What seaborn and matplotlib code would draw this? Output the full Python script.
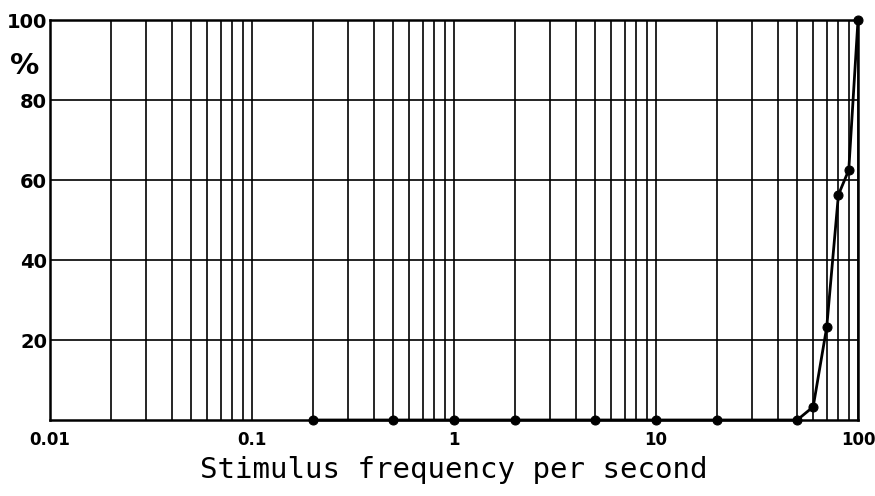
import numpy as np
import pandas as pd
import matplotlib
matplotlib.use("Agg")
import matplotlib.pyplot as plt
import seaborn as sns
from matplotlib.ticker import LogLocator, FixedLocator, NullFormatter

# Data
frequency = [0.2, 0.5, 1, 2, 5, 10, 20, 50, 60, 70, 80, 90, 100]
percent = [0, 0, 0, 0, 0, 0, 0, 0, 3.3, 23.2, 56.3, 62.5, 100]
x_ticks = [0.01, 0.1, 1, 10, 100]
x_tick_labels = ["0.01", "0.1", "1", "10", "100"]
y_ticks = [20, 40, 60, 80, 100]
y_tick_labels = ["20", "40", "60", "80", "100"]

sns.set_theme(style="white")
plt.rcParams['font.family'] = ['DejaVu Sans']

df = pd.DataFrame({"freq": frequency, "pct": percent})

fig = plt.figure(figsize=(8.75, 4.96), dpi=100)
ax = fig.add_axes([50/875, 1-420/496, (858-50)/875, (420-20)/496])

sns.lineplot(data=df, x="freq", y="pct", ax=ax, color="black", linewidth=2.0,
             marker="o", markersize=6.5, markeredgecolor="black",
             markerfacecolor="black", clip_on=False, zorder=5)

ax.set_xscale("log")
ax.set_xlim(0.01, 100)
ax.set_ylim(0, 100)

# grid
ax.xaxis.set_major_locator(FixedLocator(x_ticks))
ax.xaxis.set_minor_locator(LogLocator(base=10, subs=np.arange(2, 10)))
ax.xaxis.set_minor_formatter(NullFormatter())
ax.set_xticks(x_ticks)
ax.set_xticklabels(x_tick_labels)
ax.set_yticks(y_ticks)
ax.set_yticklabels(y_tick_labels)
ax.grid(True, which="both", axis="x", color="black", linewidth=1.2)
ax.grid(True, which="major", axis="y", color="black", linewidth=1.2)
ax.set_axisbelow(True)

for s in ax.spines.values():
    s.set_visible(True)
    s.set_color("black")
    s.set_linewidth(1.8)

ax.tick_params(axis="both", which="both", length=0)
ax.tick_params(axis="x", pad=8, labelsize=12)
ax.tick_params(axis="y", pad=2, labelsize=14)
for lab in ax.get_xticklabels() + ax.get_yticklabels():
    lab.set_fontweight("bold")
    lab.set_color("black")

ax.set_xlabel("Stimulus frequency per second", family="DejaVu Sans Mono",
              fontsize=21, color="black", labelpad=5)
ax.set_ylabel("")
ax.text(-0.031, 0.885, "%", transform=ax.transAxes, fontsize=21,
        fontweight="bold", ha="center", va="center", color="black")

fig.savefig("out.png", dpi=100, facecolor="white")
